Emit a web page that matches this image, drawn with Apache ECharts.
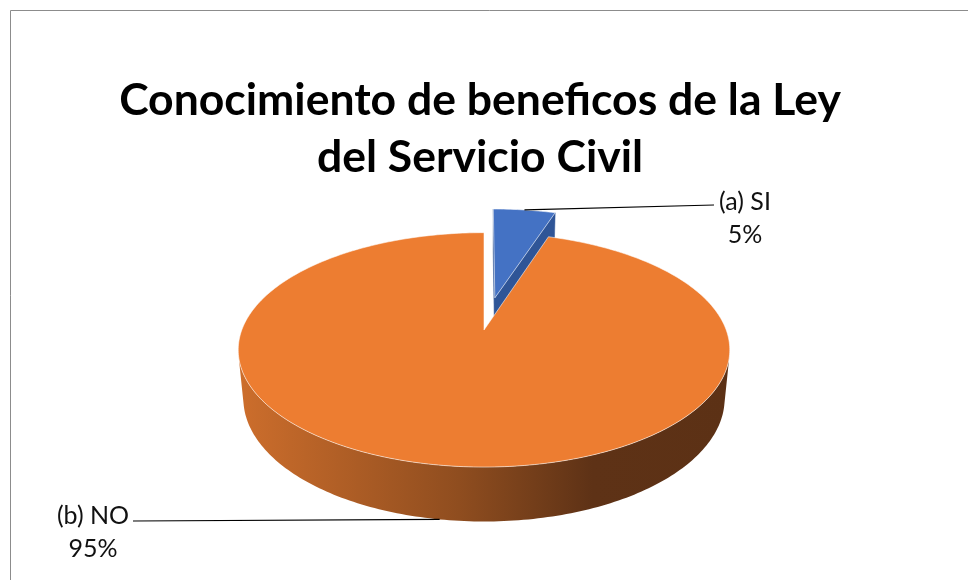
<!DOCTYPE html>
<html>
<head>
<meta charset="utf-8">
<script src="https://cdn.jsdelivr.net/npm/echarts@6/dist/echarts.min.js"></script>
<style>
  html, body { margin: 0; padding: 0; background: #ffffff; }
  #chart { width: 968px; height: 580px; }
</style>
</head>
<body>
<div id="chart"></div>
<script>
// Survey answers and their shares (percent)
const categories = ['(a) SI', '(b) NO'];
const values = [5, 95];
const explode = [0.30, 0];
const titleLines = ['Conocimiento de beneficos de la Ley', 'del Servicio Civil'];

// Colours per slice
const topColors = ['#4472C4', '#ED7D31'];
const cutColors = ['#2F5597', '#B85F22'];
const wallStops = [
  [{ offset: 0, color: '#3A5F9F' }, { offset: 1, color: '#22406F' }],
  [{ offset: 0, color: '#CD6E2C' }, { offset: 0.45, color: '#8F4D1F' }, { offset: 0.72, color: '#5E3216' }, { offset: 1, color: '#5C3115' }]
];

// Simple perspective camera for the tilted disc
const CX = 484, CY = 330, F = 1262;
const L = 5.21;
const PHI = Math.asin(0.47);
const SINP = Math.sin(PHI), COSP = Math.cos(PHI);
const H = 0.23; // disc thickness (radius = 1)
const CAM = [0, -L * COSP, L * SINP];

function project(X, Y, Z) {
  const depth = L + Y * COSP - Z * SINP;
  const sy = Y * SINP + Z * COSP;
  return [CX + F * X / depth, CY - F * sy / depth];
}
const rad = d => d * Math.PI / 180;
const dir = a => [Math.sin(rad(a)), Math.cos(rad(a))];

const total = values.reduce((s, v) => s + v, 0);

// Label placement (text block centre top) and leader end point
const labelLayout = [
  { x: 745, y: 185, end: [714, 205] },
  { x: 93, y: 499, end: [133, 521] }
];

function renderItem(params, api) {
  const i = params.dataIndex;
  const v = api.value(0);
  let before = 0;
  for (let k = 0; k < i; k++) before += values[k];
  const a0 = before / total * 360;
  const a1 = (before + v) / total * 360;
  const mid = (a0 + a1) / 2;
  const md = dir(mid);
  const ox = md[0] * explode[i], oy = md[1] * explode[i];

  const children = [];
  const steps = Math.max(2, Math.ceil(a1 - a0));
  const arc = [];
  for (let s = 0; s <= steps; s++) arc.push(a0 + (a1 - a0) * s / steps);

  // radial cut faces
  const cut = (a, sign) => {
    const d = dir(a);
    const n = sign < 0 ? [-d[1], d[0]] : [d[1], -d[0]];
    const vis = n[0] * (CAM[0] - ox) + n[1] * (CAM[1] - oy);
    if (vis <= 0) return;
    children.push({
      type: 'polygon',
      shape: { points: [
        project(ox, oy, 0), project(ox + d[0], oy + d[1], 0),
        project(ox + d[0], oy + d[1], -H), project(ox, oy, -H)
      ] },
      style: { fill: cutColors[i], stroke: cutColors[i], lineWidth: 0.5 }
    });
  };
  cut(a0, -1);
  cut(a1, 1);

  // outer wall, visible stretches only
  let run = [];
  const runs = [];
  arc.forEach(a => {
    const d = dir(a);
    const vis = d[0] * (CAM[0] - ox - d[0]) + d[1] * (CAM[1] - oy - d[1]);
    if (vis > 0) run.push(a);
    else if (run.length) { runs.push(run); run = []; }
  });
  if (run.length) runs.push(run);
  const leftX = project(-1, 0, 0)[0] - 4, rightX = project(1, 0, 0)[0] + 4;
  runs.forEach(r => {
    if (r.length < 2) return;
    const topPts = r.map(a => { const d = dir(a); return project(ox + d[0], oy + d[1], 0); });
    const botPts = r.slice().reverse().map(a => { const d = dir(a); return project(ox + d[0], oy + d[1], -H); });
    children.push({
      type: 'polygon',
      shape: { points: topPts.concat(botPts) },
      style: {
        fill: new echarts.graphic.LinearGradient(leftX, 0, rightX, 0, wallStops[i], true)
      }
    });
  });

  // top face
  const topFace = [project(ox, oy, 0)].concat(arc.map(a => {
    const d = dir(a); return project(ox + d[0], oy + d[1], 0);
  }));
  children.push({
    type: 'polygon',
    shape: { points: topFace },
    style: { fill: topColors[i], stroke: 'rgba(255,255,255,0.55)', lineWidth: 1 }
  });

  // leader line and label
  const inFront = md[1] < 0;
  const anchor = project(ox + md[0], oy + md[1], inFront ? -H : 0);
  const lay = labelLayout[i];
  children.push({
    type: 'polyline',
    shape: { points: [anchor, lay.end] },
    style: { stroke: '#000000', lineWidth: 1.2, fill: null }
  });
  children.push({
    type: 'text',
    x: lay.x, y: lay.y,
    style: {
      text: categories[i] + '\n' + Math.round(v / total * 100) + '%',
      fill: '#111111',
      fontFamily: 'Lato',
      fontSize: 25,
      lineHeight: 33,
      align: 'center',
      verticalAlign: 'top'
    }
  });
  return { type: 'group', children };
}

const chart = echarts.init(document.getElementById('chart'), null, { renderer: 'canvas' });
chart.setOption({
  animation: false,
  backgroundColor: '#ffffff',
  graphic: [
    {
      type: 'rect',
      shape: { x: 10.5, y: 10.5, width: 1000, height: 1000 },
      style: { fill: null, stroke: '#8c8c8c', lineWidth: 1 },
      silent: true
    },
    {
      type: 'text',
      x: 480, y: 72,
      style: {
        text: titleLines.join('\n'),
        fill: '#000000',
        fontFamily: 'Lato',
        fontWeight: 'bold',
        fontSize: 44.5,
        lineHeight: 57,
        align: 'center',
        verticalAlign: 'top'
      }
    }
  ],
  series: [{
    type: 'custom',
    coordinateSystem: 'none',
    renderItem,
    data: values.map((v, k) => ({ name: categories[k], value: v }))
  }]
});
</script>
</body>
</html>
